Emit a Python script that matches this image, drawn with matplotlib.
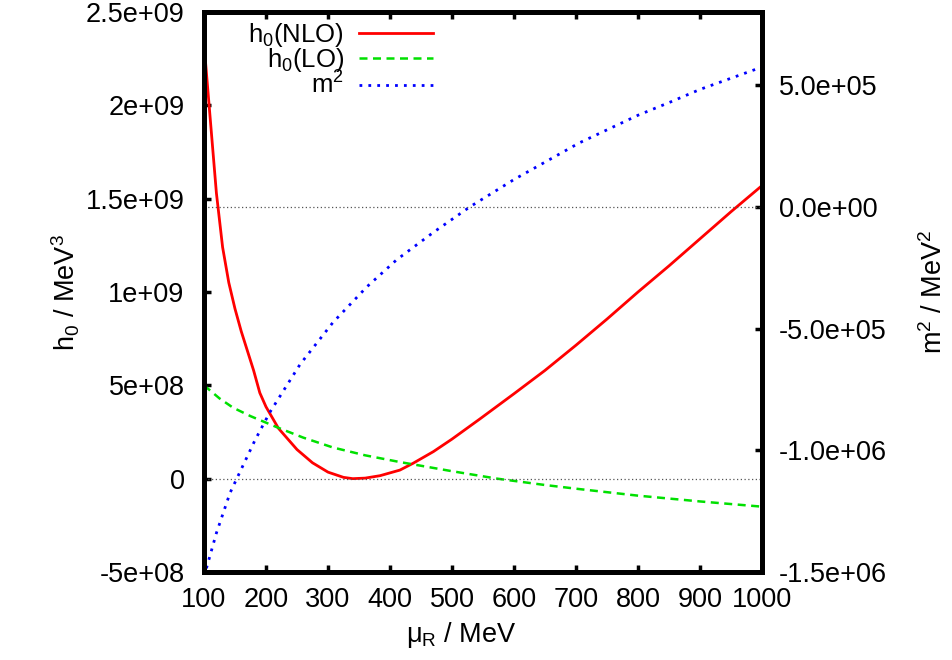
import matplotlib
matplotlib.use("Agg")
import matplotlib.pyplot as plt

# values (mu_R in MeV)
mu_nlo = [100, 110, 120, 130, 140, 150, 160, 170, 180, 190, 200, 220, 250, 275,
          300, 325, 340, 360, 384, 416, 437, 470, 500, 545, 600, 650, 700, 750,
          800, 850, 900, 950, 1000]
h0_nlo = [2.33e9, 1.93e9, 1.53e9, 1.24e9, 1.05e9, 9.1e8, 7.9e8, 6.85e8, 5.8e8,
          4.6e8, 3.85e8, 2.7e8, 1.56e8, 8.5e7, 3.5e7, 7e6, 0.0, 3e6, 1.6e7,
          4.6e7, 8.2e7, 1.45e8, 2.12e8, 3.2e8, 4.55e8, 5.8e8, 7.15e8, 8.55e8,
          1.0e9, 1.14e9, 1.285e9, 1.43e9, 1.57e9]

mu_lo = [100, 125, 147, 175, 218, 260, 308, 360, 416, 500, 573, 650, 706, 800,
         900, 1000]
h0_lo = [5.0e8, 4.3e8, 3.8e8, 3.35e8, 2.75e8, 2.2e8, 1.67e8, 1.25e8, 8.9e7,
         4.0e7, 0.0, -3.4e7, -5.6e7, -9.1e7, -1.22e8, -1.5e8]

mu_m2 = [100, 120, 142, 155, 182, 206, 255, 308, 363, 411, 470, 529, 600, 705,
         800, 852, 900, 1000]
m2 = [-1.52e6, -1.34e6, -1.175e6, -1.105e6, -9.6e5, -8.45e5, -6.47e5, -4.75e5,
      -3.28e5, -2.17e5, -1.05e5, 0.0, 1.12e5, 2.62e5, 3.76e5, 4.3e5, 4.82e5,
      5.74e5]

x_ticks = [100, 200, 300, 400, 500, 600, 700, 800, 900, 1000]
y1_ticks = [-5e8, 0, 5e8, 1e9, 1.5e9, 2e9, 2.5e9]
y1_labels = ["-5e+08", "0", "5e+08", "1e+09", "1.5e+09", "2e+09", "2.5e+09"]
y2_ticks = [-1.5e6, -1.0e6, -5e5, 0, 5e5]
y2_labels = ["-1.5e+06", "-1.0e+06", "-5.0e+05", "0.0e+00", "5.0e+05"]

plt.rcParams["font.family"] = ["Liberation Sans", "DejaVu Sans"]
plt.rcParams["mathtext.fontset"] = "custom"
plt.rcParams["mathtext.rm"] = "Liberation Sans"
plt.rcParams["mathtext.it"] = "Liberation Sans"
plt.rcParams["mathtext.default"] = "rm"
plt.rcParams["font.size"] = 19.5

fig = plt.figure(figsize=(9.53, 6.6), dpi=100)
ax = fig.add_axes([204 / 953, 1 - 572 / 660, 558 / 953, 560 / 660])
ax2 = ax.twinx()

l1, = ax.plot(mu_nlo, h0_nlo, color="#ff0000", lw=2.0, label="h$_0$(NLO)")
l2, = ax.plot(mu_lo, h0_lo, color="#00e000", lw=1.8, ls=(0, (3.2, 2.2)),
              label="h$_0$(LO)")
ax.axhline(0, color="#555555", lw=0.9, ls=(0, (1, 2)))
l3, = ax2.plot(mu_m2, m2, color="#0000ff", lw=2.0, ls=(0, (1, 2.2)),
               label="m$^2$")
ax2.axhline(0, color="#555555", lw=0.9, ls=(0, (1, 2)))

ax.set_xlim(100, 1000)
ax.set_ylim(-5e8, 2.5e9)
ax2.set_ylim(-1.5e6, 8e5)

ax.set_xticks(x_ticks)
ax.set_xticklabels([str(v) for v in x_ticks])
ax.set_yticks(y1_ticks)
ax.set_yticklabels(y1_labels)
ax2.set_yticks(y2_ticks)
ax2.set_yticklabels(y2_labels)

for a in (ax, ax2):
    for s in a.spines.values():
        s.set_linewidth(3.5)
ax.tick_params(axis="x", direction="in", length=5, width=2.5, top=True, pad=11)
ax.tick_params(axis="y", direction="in", length=5, width=2.5, pad=14)
ax2.tick_params(axis="y", direction="in", length=5, width=2.5, pad=12)

ax.set_xlabel("\u03bc$_R$ / MeV", labelpad=4)
ax.xaxis.set_label_coords(0.462, -0.085)
ax.set_ylabel("h$_0$ / MeV$^3$", labelpad=3)
ax2.set_ylabel("m$^2$ / MeV$^2$", labelpad=24)

ax2.legend(handles=[l1, l2, l3], loc="upper right", bbox_to_anchor=(0.442, 1.016),
           frameon=False, markerfirst=False, handlelength=2.85,
           handletextpad=0.6, labelspacing=-0.1, borderpad=0.2, fontsize=18.5)

fig.savefig("out.png", dpi=100)
